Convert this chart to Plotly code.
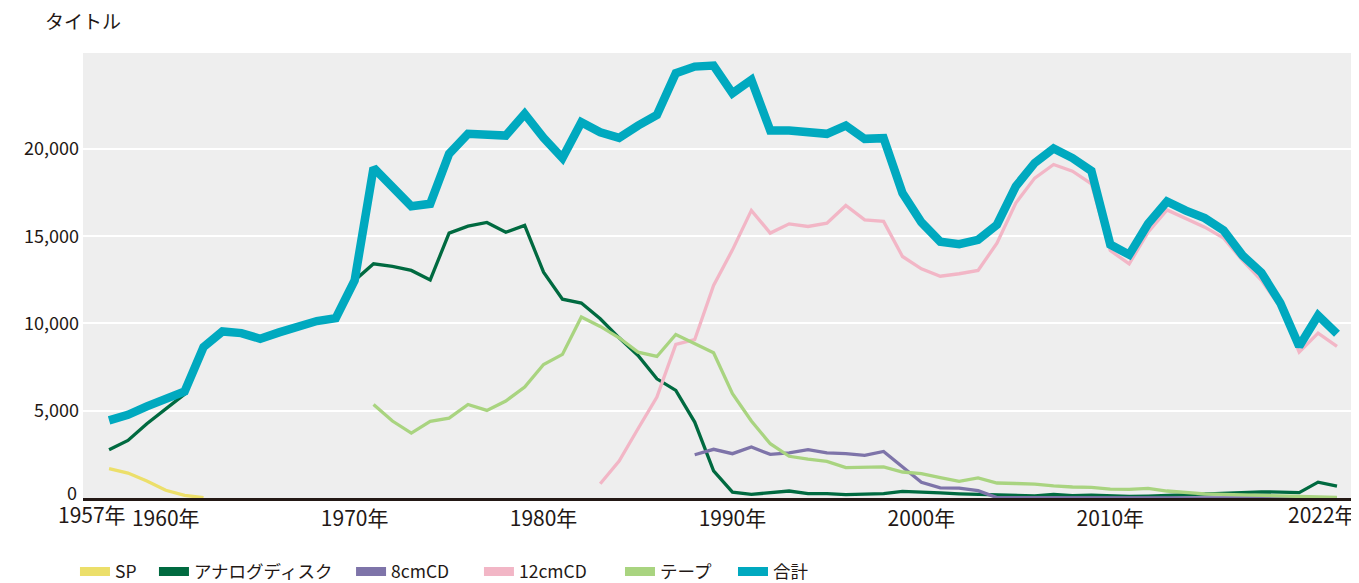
import plotly.graph_objects as go

# ---------------- data ----------------
years = list(range(1957, 2023))

sp_years = list(range(1957, 1963))
sp = [1680, 1430, 980, 440, 150, 20]

analog = [2770, 3300, 4260, 5120, 5950, 8630, 9545, 9450, 9125, 9490,
          9830, 10140, 10310, 12470, 13420, 13270, 13040, 12500, 15180, 15580,
          15790, 15230, 15620, 12940, 11390, 11170, 10270, 9180, 8170, 6830,
          6170, 4350, 1550, 340, 210, 300, 400, 250, 250, 190,
          230, 250, 380, 350, 290, 240, 200, 160, 150, 120,
          200, 130, 170, 110, 90, 110, 150, 190, 240, 280,
          320, 350, 340, 310, 910, 680]

cd8_years = list(range(1988, 2023))
cd8 = [2480, 2790, 2540, 2920, 2500, 2580, 2770, 2580, 2540, 2440,
       2670, 1780, 900, 580, 570, 420, 20, 20, 15, 15,
       10, 10, 10, 10, 10, 5, 5, 5, 5, 5,
       5, 5, 5, 5, 5]

cd12_years = list(range(1983, 2023))
cd12 = [820, 2120, 3970, 5780, 8800, 9070, 12180, 14220, 16480, 15180,
        15710, 15560, 15750, 16760, 15940, 15850, 13840, 13130, 12710, 12850,
        13040, 14600, 16900, 18330, 19110, 18730, 18000, 14180, 13420, 15230,
        16510, 16000, 15520, 14890, 13610, 12470, 10940, 8360, 9450, 8690]

tape_years = list(range(1971, 2023))
tape = [5360, 4410, 3720, 4390, 4580, 5360, 5020, 5560, 6360, 7650,
        8230, 10370, 9830, 9180, 8360, 8110, 9370, 8840, 8320, 5980,
        4410, 3110, 2390, 2230, 2100, 1740, 1740, 1780, 1490, 1400,
        1170, 950, 1150, 860, 830, 800, 700, 630, 610, 510,
        490, 550, 400, 300, 240, 210, 190, 160, 130, 90,
        60, 40]

total = [4450, 4770, 5250, 5690, 6110, 8650, 9545, 9450, 9125, 9490,
         9830, 10140, 10310, 12470, 18920, 17810, 16720, 16860, 19720, 20870,
         20810, 20770, 22010, 20640, 19480, 21530, 20960, 20640, 21340, 21950,
         24340, 24720, 24780, 23190, 23960, 21060, 21060, 20960, 20870, 21340,
         20580, 20620, 17470, 15800, 14680, 14540, 14790, 15660, 17860, 19200,
         20030, 19480, 18740, 14520, 13940, 15710, 16990, 16470, 16040, 15330,
         13900, 12910, 11180, 8700, 10460, 9410]

series_names = ["SP", "アナログディスク", "8cmCD", "12cmCD", "テープ", "合計"]
title_text = "タイトル"

x_tick_vals = [1960, 1970, 1980, 1990, 2000, 2010]
x_tick_text = ["1960年", "1970年", "1980年", "1990年", "2000年", "2010年"]
edge_tick_vals = [1957, 2022]
edge_tick_text = ["1957年", "2022年"]
y_tick_vals = [5000, 10000, 15000, 20000]
y_zero_val = 0
y_zero_text = "0"

# ---------------- style ----------------
FONT = "Noto Sans CJK JP"
TXT = "#231815"
colors = ["#ECDF6A", "#006A40", "#7E74A9", "#F2B6C6", "#A9D480", "#00A9BF"]
widths = [3.3, 3.3, 3.3, 3.3, 3.3, 8.5]

# legend placement (paper x of each legend box) and names of the legends
legend_x = [-0.0063, 0.0557, 0.2104, 0.3108, 0.4215, 0.5102]
legend_ids = ["legend", "legend2", "legend3", "legend4", "legend5", "legend6"]
LEGEND_Y = -0.1655

xs = [sp_years, years, cd8_years, cd12_years, tape_years, years]
ys = [sp, analog, cd8, cd12, tape, total]

fig = go.Figure()
for name, x, y, c, w in zip(series_names, xs, ys, colors, widths):
    fig.add_trace(go.Scatter(x=x, y=y, mode="lines", name=name,
                             line=dict(color=c, width=w),
                             showlegend=False, hoverinfo="skip"))
# legend entries (uniform rectangular swatches), each in its own legend box
for name, c, lid in zip(series_names, colors, legend_ids):
    fig.add_trace(go.Scatter(x=[None], y=[None], mode="lines", name=name,
                             line=dict(color=c, width=9), showlegend=True,
                             legend=lid))

# edge year labels nudged inward as in the reference
for v, t, sh in zip(edge_tick_vals, edge_tick_text, [-17, -15]):
    fig.add_annotation(x=v, xref="x", y=0, yref="paper", yanchor="top",
                       yshift=0, xshift=sh, text=t, showarrow=False,
                       borderpad=0,
                       font=dict(family=FONT, size=21, color=TXT))

# the "0" label sits slightly above the baseline in the reference
fig.add_annotation(x=0, xref="paper", y=y_zero_val, yref="y",
                   xanchor="right", yanchor="middle", xshift=-5, yshift=6,
                   text=y_zero_text, showarrow=False, borderpad=0,
                   font=dict(family=FONT, size=18, color=TXT))

legend_common = dict(orientation="h", xanchor="left", y=LEGEND_Y,
                     yanchor="middle",
                     font=dict(family=FONT, size=17.5, color=TXT),
                     itemwidth=30, bgcolor="rgba(0,0,0,0)")
legends = {lid: dict(legend_common, x=lx) for lid, lx in zip(legend_ids, legend_x)}

fig.update_layout(
    width=1351, height=575,
    margin=dict(l=75, r=2, t=45, b=85, autoexpand=False),
    plot_bgcolor="#EEEEEE", paper_bgcolor="white",
    font=dict(family=FONT, color=TXT),
    title=dict(text=title_text, xref="container", yref="container",
               x=0.0274, xanchor="left", y=0.9757, yanchor="middle",
               font=dict(family=FONT, size=19, color=TXT)),
    xaxis=dict(range=[1955.62, 2023.06], tickvals=x_tick_vals,
               ticktext=x_tick_text, showgrid=False, zeroline=False,
               showline=True, linecolor=TXT, linewidth=3, ticks="",
               tickangle=0, ticklabelstandoff=0,
               tickfont=dict(family=FONT, size=21, color=TXT)),
    yaxis=dict(range=[0, 25500], tickvals=y_tick_vals, tickformat=",",
               showgrid=True, gridcolor="white", gridwidth=2,
               zeroline=False, showline=False, ticks="",
               ticklabelstandoff=3,
               tickfont=dict(family=FONT, size=18, color=TXT)),
    **legends,
)

fig.write_html("out.html")
